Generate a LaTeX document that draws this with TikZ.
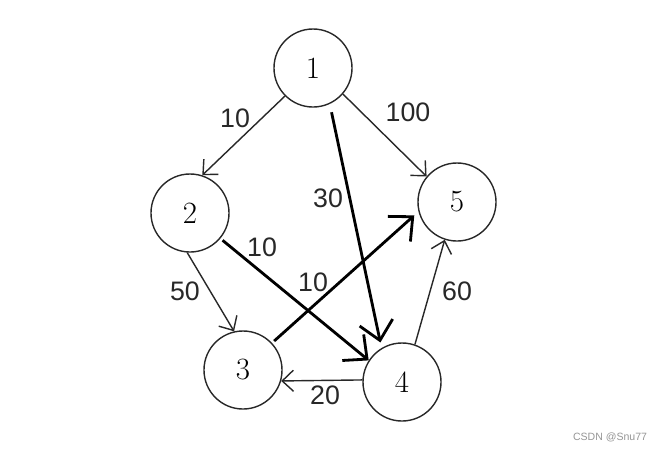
\documentclass[tikz,border=0pt]{standalone}
\usepackage{fontspec}
\setsansfont{Liberation Sans}
\usepackage{tikz}
\usetikzlibrary{arrows.meta,positioning,calc}
\definecolor{inkgray}{RGB}{40,40,40}
\definecolor{markgray}{RGB}{150,150,150}

\tikzset{
  vertex/.style={circle,draw=inkgray,line width=1pt,minimum size=1.95cm,inner sep=0pt,font=\fontsize{22}{26}\selectfont},
  thinedge/.style={draw=inkgray,line width=1pt,-{Straight Barb[length=8pt,width=15pt]}},
  thickedge/.style={draw=black,line width=2pt,-{Straight Barb[length=13pt,width=24pt]}},
  weight/.style={font=\sffamily\fontsize{19}{22}\selectfont,text=inkgray,inner sep=1pt}
}

\begin{document}
\begin{tikzpicture}[x=0.025cm,y=-0.025cm]
    \useasboundingbox[fill=white] (0,0) rectangle (662,450);

    % vertices
    \node[vertex] (v1) at (313,68) {1};
    \node[vertex] (v2) at (190,213) {2};
    \node[vertex] (v5) at (457,202) {5};
    \node[vertex] (v3) at (243,370) {3};
    \node[vertex] (v4) at (402,382) {4};

    % thin edges
    \draw[thinedge] (v1.-135) -- (v2.72);
    \draw[thinedge] (v1.-41) -- (v5.140);
    \draw[thinedge] (v2.-94) -- (v3.103);
    \draw[thinedge] (v4.177) -- (v3.-16);
    \draw[thinedge] (v4.71) -- (v5.-108);

    % thick edges
    \draw[thickedge,shorten <=6pt,shorten >=4pt] (v1.-65) -- (v4.121);
    \draw[thickedge,shorten <=2pt] (v2.-40) -- (v4.147);
    \draw[thickedge,shorten <=2pt,shorten >=4pt] (v3.43) -- (v5.-166);

    % weights
    \node[weight] (w12) at (235,118) {10};
    \node[weight] (w15) at (408,112) {100};
    \node[weight] (w14) at (328,198) {30};
    \node[weight] (w24) at (262,247) {10};
    \node[weight] (w35) at (313,282) {10};
    \node[weight] (w23) at (185,291) {50};
    \node[weight] (w45) at (457,291) {60};
    \node[weight] (w43) at (325,395) {20};

    \node[font=\sffamily\fontsize{7.5}{9}\selectfont,text=markgray] (mark) at (610,437) {CSDN @Snu77};
\end{tikzpicture}
\end{document}
